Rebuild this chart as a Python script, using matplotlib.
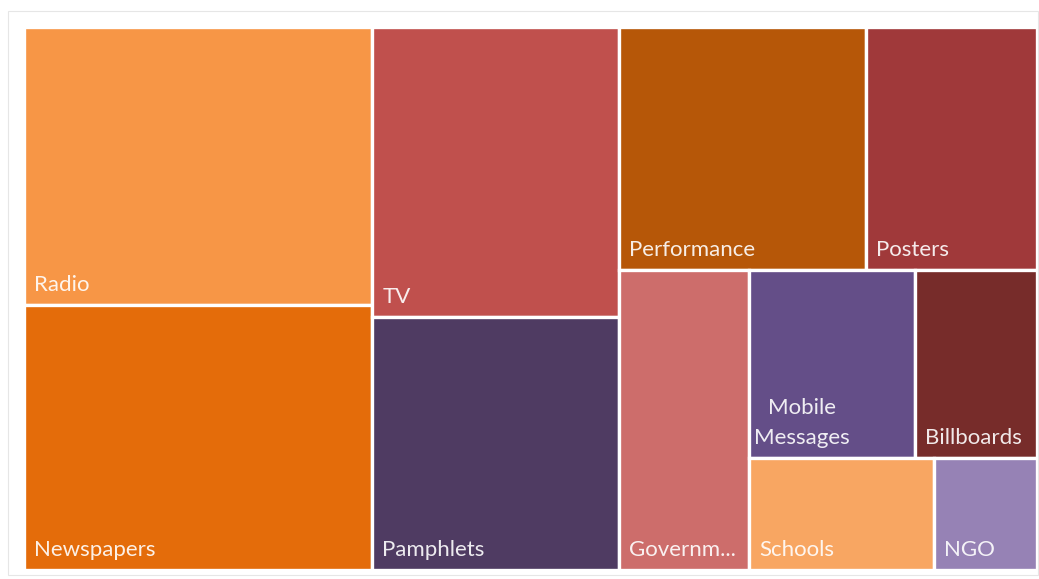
import matplotlib
matplotlib.use("Agg")
import matplotlib.pyplot as plt
from matplotlib.patches import Rectangle

labels = ["Radio", "Newspapers", "TV", "Pamphlets", "Performance", "Posters",
          "Governm...", "Mobile\nMessages", "Billboards", "Schools", "NGO"]
values = [84, 80, 62, 54, 52, 36, 34, 27, 20, 18, 10]
colours = ["#F79646", "#E46C0A", "#C0504D", "#4F3B62", "#B65708", "#A0393A",
           "#CD6D6B", "#644E88", "#772C2A", "#F8A662", "#9682B5"]
# how many items go in each strip (Excel's layout)
strips = [2, 2, 2, 1, 2, 1, 1]


def layout(vals, x, y, w, h, counts):
    rects = []
    i = 0
    left = float(sum(vals))
    for n in counts:
        grp = vals[i:i + n]
        s = float(sum(grp))
        if w >= h:
            # column on the left, items stacked downwards
            cw = w * s / left
            yy = y
            for v in grp:
                ch = h * v / s
                rects.append((x, yy, cw, ch))
                yy += ch
            x += cw
            w -= cw
        else:
            # row along the top, items left to right
            rh = h * s / left
            xx = x
            for v in grp:
                rw = w * v / s
                rects.append((xx, y, rw, rh))
                xx += rw
            y += rh
            h -= rh
        left -= s
        i += n
    return rects


fig = plt.figure(figsize=(10.39, 5.79), dpi=100)
# faint outer frame
fig.patches.append(Rectangle((8 / 1039, 4 / 579), 1030 / 1039, 564 / 579,
                             transform=fig.transFigure, fill=False,
                             edgecolor="#E6E6E6", lw=0.8))

ax = fig.add_axes([24 / 1039, 9 / 579, 1013 / 1039, 543 / 579])
W, H = 1013.0, 543.0
ax.set_xlim(0, W)
ax.set_ylim(H, 0)
ax.axis("off")

boxes = layout(values, 0, 0, W, H, strips)
for (x, y, w, h), lab, c in zip(boxes, labels, colours):
    ax.add_patch(Rectangle((x, y), w, h, facecolor=c, edgecolor="white", lw=2.4))
    pad = 5 if "\n" in lab else 10
    ax.text(x + pad, y + h - 14, lab, color="white", fontsize=16,
            family=["Lato", "DejaVu Sans"], ha="left", va="baseline",
            multialignment="center", linespacing=1.62, alpha=0.9)

fig.savefig("out.png", dpi=100)
